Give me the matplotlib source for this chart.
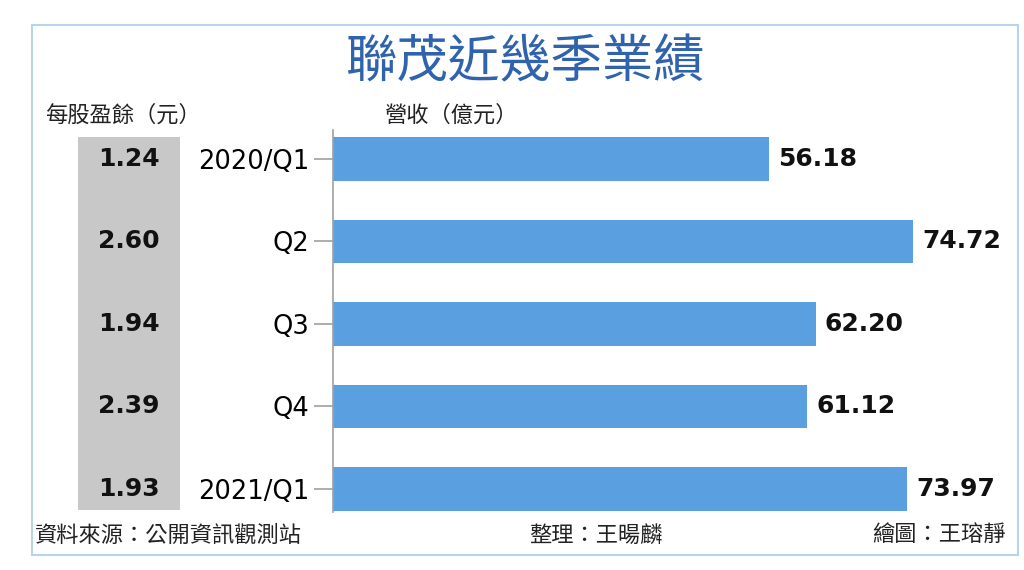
import matplotlib.pyplot as plt
from matplotlib.patches import Rectangle

plt.rcParams['font.family'] = ['Noto Sans CJK TC', 'DejaVu Sans']

quarters = ['2020/Q1', 'Q2', 'Q3', 'Q4', '2021/Q1']
revenue = [56.18, 74.72, 62.20, 61.12, 73.97]
eps = [1.24, 2.60, 1.94, 2.39, 1.93]

W, H = 1024, 570
fig = plt.figure(figsize=(W / 100, H / 100), dpi=100)

def fx(px):
    return px / W

def fy(py):
    return 1 - py / H

num_font = ['DejaVu Sans']

# outer frame
fig.patches.append(Rectangle((fx(32), fy(555)), fx(1018) - fx(32), fy(25) - fy(555),
                             transform=fig.transFigure, fill=False,
                             edgecolor='#b9d3ea', linewidth=1.5))
# grey eps column
fig.patches.append(Rectangle((fx(78), fy(510)), fx(180) - fx(78), fy(137) - fy(510),
                             transform=fig.transFigure, facecolor='#c8c8c8',
                             edgecolor='none', zorder=0))

ax = fig.add_axes([fx(333), fy(512), fx(1011) - fx(333), fy(130) - fy(512)])
pos = list(range(len(quarters)))
ax.barh(pos, revenue, height=0.53, color='#5aa0e0')
ax.set_xlim(0, 87.4)
ax.set_ylim(4.28, -0.35)
ax.set_yticks(pos)
ax.set_yticklabels(quarters, fontsize=18.5, family=num_font)
ax.tick_params(axis='y', length=14, width=1.2, color='#a0a0a0', pad=3)
ax.set_xticks([])
for s in ['top', 'right', 'bottom']:
    ax.spines[s].set_visible(False)
ax.spines['left'].set_color('#a0a0a0')
ax.spines['left'].set_linewidth(1.2)
ax.patch.set_alpha(0)

for p, v in zip(pos, revenue):
    ax.text(v + 1.2, p, f'{v:.2f}', va='center', ha='left', family=num_font,
            fontsize=18, fontweight='bold', color='#111111')

# eps values in the grey column
for p, e in zip(pos, eps):
    yfig = fig.transFigure.inverted().transform(ax.transData.transform((0, p)))[1]
    fig.text(fx(160), yfig, f'{e:.2f}', ha='right', va='center', family=num_font,
             fontsize=18, fontweight='bold', color='#111111')

fig.text(fx(525), fy(63), '聯茂近幾季業績', ha='center', va='center',
         fontsize=37, fontweight='medium', color='#2f63ad')
fig.text(fx(45), fy(115), '每股盈餘（元）', ha='left', va='center', fontsize=16, color='#222222')
fig.text(fx(385), fy(115), '營收（億元）', ha='left', va='center', fontsize=16, color='#222222')

fig.text(fx(35), fy(535), '資料來源：公開資訊觀測站', ha='left', va='center', fontsize=16, color='#222222')
fig.text(fx(596), fy(535), '整理：王暘麟', ha='center', va='center', fontsize=16, color='#222222')
fig.text(fx(1006), fy(535), '繪圖：王瑢靜', ha='right', va='center', fontsize=16, color='#222222')

fig.savefig('out.png', dpi=100, facecolor='white')
